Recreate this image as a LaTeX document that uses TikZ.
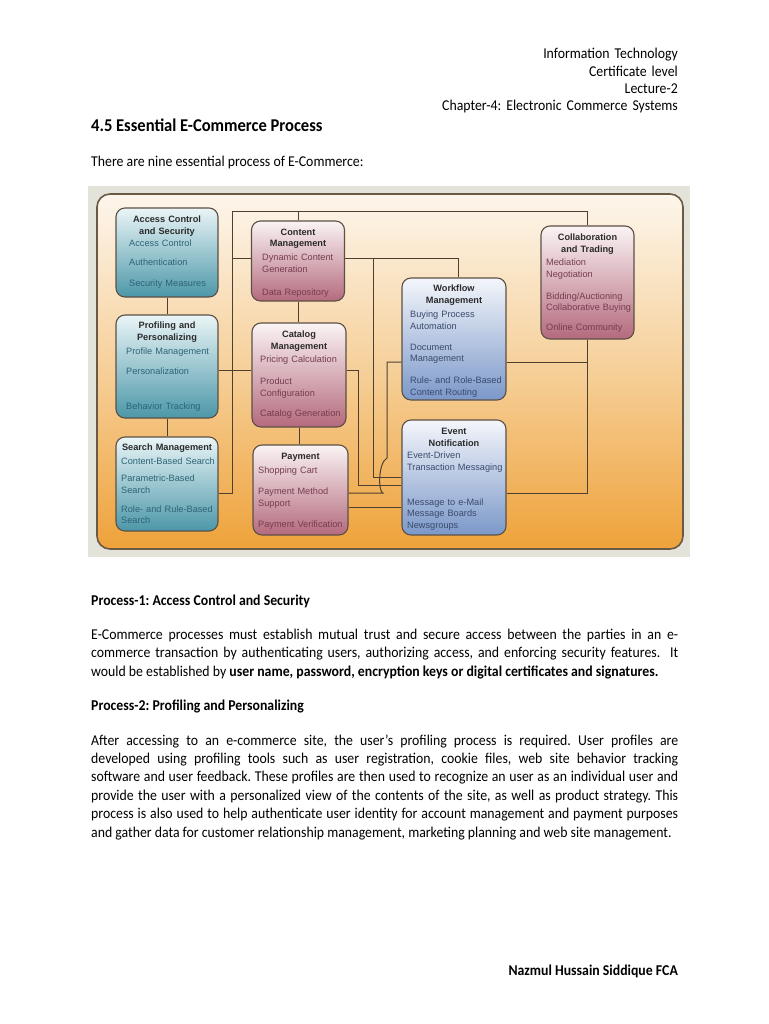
\documentclass[tikz,border=0pt]{standalone}
\usepackage{fontspec}
\setmainfont{Carlito}[FakeStretch=0.92]
\newfontfamily\diagfont{Liberation Sans}
\usepackage{xcolor}
\definecolor{pagegray}{HTML}{E3E3DA}
\definecolor{framebrown}{HTML}{6A5A45}
\definecolor{orangetop}{HTML}{FDF6EC}
\definecolor{orangemid}{HTML}{F6CF98}
\definecolor{orangebot}{HTML}{EEA23A}
\definecolor{tealtop}{HTML}{EAF5F7}
\definecolor{tealbot}{HTML}{4C97A8}
\definecolor{tealtext}{HTML}{2C6477}
\definecolor{pinktop}{HTML}{FAF3F4}
\definecolor{pinkbot}{HTML}{B46A7D}
\definecolor{pinktext}{HTML}{763C50}
\definecolor{bluetop}{HTML}{F4F6FB}
\definecolor{bluebot}{HTML}{7B98C9}
\definecolor{bluetext}{HTML}{3A4A6C}
\definecolor{titletext}{HTML}{2A2A2A}
\definecolor{boxedge}{HTML}{5C5045}
\definecolor{wirecol}{HTML}{4E4030}
\usetikzlibrary{positioning}

\tikzset{
  procbox/.style={rectangle, rounded corners=9pt, draw=boxedge, line width=1.1pt, inner sep=0pt},
  tealbox/.style={procbox, top color=tealtop, bottom color=tealbot},
  pinkbox/.style={procbox, top color=pinktop, bottom color=pinkbot},
  bluebox/.style={procbox, top color=bluetop, bottom color=bluebot},
  boxtitle/.style={font=\diagfont\bfseries\fontsize{9.2}{11.5}\selectfont, text=titletext, text width=100pt, align=center, anchor=base, inner sep=0pt},
  boxitems/.style={font=\diagfont\fontsize{9.2}{11.5}\selectfont, text width=100pt, align=left, anchor=base west, inner sep=0pt},
  wire/.style={draw=wirecol, line width=1pt},
  bodytext/.style={font=\fontsize{15}{18.4}\selectfont, inner sep=0pt},
  bodypara/.style={bodytext, text width=587pt, align=justify, anchor=base west},
}

\begin{document}
\frenchspacing
\begin{tikzpicture}[x=1pt,y=-1pt]
\useasboundingbox[fill=white] (0,0) rectangle (768,1024);

% page heading
\node[bodytext, text width=320pt, align=right, anchor=base east, font=\fontsize{15}{17.3}\selectfont] (head) at (678,59)
  {Information Technology\\Certificate level\\Lecture-2\\Chapter-4: Electronic Commerce Systems};
\node[bodytext, anchor=base west, font=\bfseries\fontsize{18}{20}\selectfont] (sect) at (91,132) {4.5 Essential E-Commerce Process};
\node[bodytext, anchor=base west] (intro) at (91,167) {There are nine essential process of E-Commerce:};

% diagram background
\fill[pagegray] (88,186) rectangle (690,557);
\draw[draw=framebrown, line width=1.6pt, rounded corners=13pt, top color=orangetop, bottom color=orangebot, middle color=orangemid] (97,194) rectangle (683,549);

% wires
\coordinate (busT) at (232,212);
\coordinate (busB) at (232,493);
\coordinate (j1) at (232,258);
\coordinate (j2) at (458,258);
\coordinate (j3) at (373,258);
\coordinate (j4) at (373,477);
\coordinate (j5) at (358,370);
\coordinate (j6) at (358,485);
\coordinate (j7) at (387,493);
\coordinate (j8) at (387,362);
\coordinate (j9) at (587.5,362);
\coordinate (j10) at (587.5,493);
\coordinate (j11) at (395,507);

% boxes
\node[tealbox, minimum width=102pt, minimum height=89pt] (acs) at (167,252.5) {};
\node[tealbox, minimum width=102pt, minimum height=103pt] (pp) at (167,366.5) {};
\node[tealbox, minimum width=102pt, minimum height=94pt] (sm) at (167,484) {};
\node[pinkbox, minimum width=93pt, minimum height=80pt] (cm) at (298,261) {};
\node[pinkbox, minimum width=94pt, minimum height=104pt] (cat) at (299,375) {};
\node[pinkbox, minimum width=95pt, minimum height=90pt] (pay) at (300.5,490) {};
\node[bluebox, minimum width=104pt, minimum height=122pt] (wf) at (454,339) {};
\node[bluebox, minimum width=104pt, minimum height=115pt] (ev) at (454,477.5) {};
\node[pinkbox, minimum width=93pt, minimum height=113pt] (ct) at (587.5,282.5) {};

\draw[wire] (acs) -- (pp);
\draw[wire] (pp) -- (sm);
\draw[wire] (busB -| sm.east) -- (busB) -- (busT) -- (busT -| ct.north) -- (ct.north);
\draw[wire] (cm.north) -- (cm.north |- busT);
\draw[wire] (j1) -- (j1 -| cm.west);
\draw[wire] (j1 -| cm.east) -- (j2) -- (j2 |- wf.north);
\draw[wire] (j3) -- (j4) -- (j4 -| ev.west);
\draw[wire] (cm.south) -- (cm.south |- cat.north);
\draw[wire] (cat.south) -- (cat.south |- pay.north);
\draw[wire] (j5 -| pp.east) -- (j5 -| cat.west);
\draw[wire] (j5 -| cat.east) -- (j5) -- (j6) -- (j6 -| ev.west);
\draw[wire] (j7 -| pay.east) -- (383,493) .. controls (378,492) and (378,463) .. (387,458) -- (j8) -- (j8 -| wf.west);
\draw[wire] (j11 -| pay.east) -- (j11 -| ev.west);
\draw[wire] (j9 -| wf.east) -- (j9);
\draw[wire] (ct.south) -- (j10) -- (j10 -| ev.east);

% box texts
\node[boxtitle] (acs-t) at (167,222.5) {Access Control\\and Security};
\node[boxitems, text=tealtext] (acs-i) at (129,246) {Access Control\\[7.5pt]Authentication\\[9.5pt]Security Measures};
\node[boxtitle] (pp-t) at (167,328.5) {Profiling and\\Personalizing};
\node[boxitems, text=tealtext] (pp-i) at (126,354.5) {Profile Management\\[8.5pt]Personalization\\[23.5pt]Behavior Tracking};
\node[boxtitle] (sm-t) at (167,450.5) {Search Management};
\node[boxitems, text=tealtext] (sm-i) at (121,464.5) {Content-Based Search\\[5.5pt]Parametric-Based\\Search\\[7.5pt]Role- and Rule-Based\\Search};
\node[boxtitle] (cm-t) at (298,235.5) {Content\\Management};
\node[boxitems, text=pinktext] (cm-i) at (262,260.5) {Dynamic Content\\Generation\\[11.5pt]Data Repository};
\node[boxtitle] (cat-t) at (299,337.5) {Catalog\\Management};
\node[boxitems, text=pinktext] (cat-i) at (260,362.5) {Pricing Calculation\\[10.5pt]Product\\Configuration\\[8.5pt]Catalog Generation};
\node[boxtitle] (pay-t) at (300.5,459.5) {Payment};
\node[boxitems, text=pinktext] (pay-i) at (258,473.5) {Shopping Cart\\[9.5pt]Payment Method\\Support\\[9.5pt]Payment Verification};
\node[boxtitle] (wf-t) at (454,291.5) {Workflow\\Management};
\node[boxitems, text=bluetext] (wf-i) at (410,317.5) {Buying Process\\Automation\\[9.5pt]Document\\Management\\[10.5pt]Rule- and Role-Based\\Content Routing};
\node[boxtitle] (ev-t) at (454,434.5) {Event\\Notification};
\node[boxitems, text=bluetext] (ev-i) at (407,458.5) {Event-Driven\\Transaction Messaging\\[23.5pt]Message to e-Mail\\Message Boards\\Newsgroups};
\node[boxtitle] (ct-t) at (587.5,240.5) {Collaboration\\and Trading};
\node[boxitems, text=pinktext] (ct-i) at (546,265.5) {Mediation\\Negotiation\\[10.5pt]Bidding/Auctioning\\Collaborative Buying\\[8.5pt]Online Community};

% text below the diagram
\node[bodytext, anchor=base west, font=\bfseries\fontsize{15}{18.4}\selectfont] (p1-h) at (91,605) {Process-1: Access Control and Security};
\node[bodypara] (p1) at (91,639.5) {E-Commerce processes must establish mutual trust and secure access between the parties in an e-\linebreak commerce transaction by authenticating users, authorizing access, and enforcing security features.~~It\linebreak would be established by \textbf{user name, password, encryption keys or digital certificates and signatures.}};
\node[bodytext, anchor=base west, font=\bfseries\fontsize{15}{18.4}\selectfont] (p2-h) at (91,710) {Process-2: Profiling and Personalizing};
\node[bodypara] (p2) at (91,745) {After accessing to an e-commerce site, the user’s profiling process is required. User profiles are\linebreak developed using profiling tools such as user registration, cookie files, web site behavior tracking\linebreak software and user feedback. These profiles are then used to recognize an user as an individual user and\linebreak provide the user with a personalized view of the contents of the site, as well as product strategy. This\linebreak process is also used to help authenticate user identity for account management and payment purposes\linebreak and gather data for customer relationship management, marketing planning and web site management.};

% footer
\node[bodytext, anchor=base east, font=\bfseries\fontsize{15}{18.4}\selectfont] (foot) at (678,975) {Nazmul Hussain Siddique FCA};
\end{tikzpicture}
\end{document}
